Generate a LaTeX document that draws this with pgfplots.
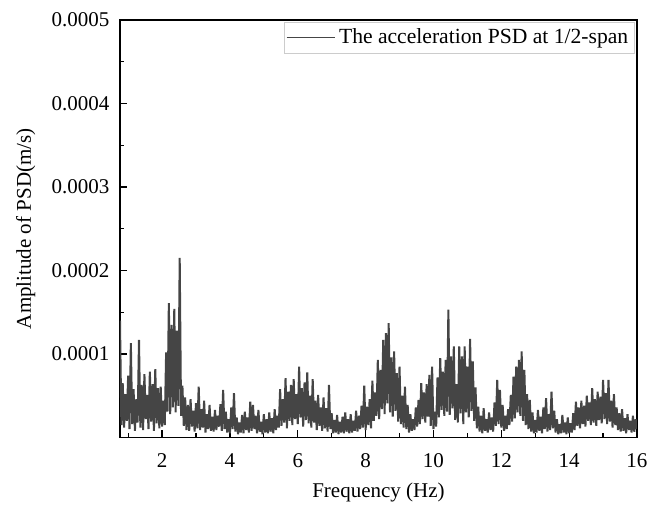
\documentclass[border=0pt]{standalone}
\usepackage{fontspec}
\setmainfont{Liberation Serif}
\usepackage{pgfplots}
\pgfplotsset{compat=1.18}
\begin{document}
\fontsize{11}{13}\selectfont
\begin{tikzpicture}
\begin{axis}[
 scale only axis, width=258.5pt, height=208.75pt,
 xmin=0.76, xmax=16, ymin=0, ymax=0.0005,
 xtick={2,4,...,16}, minor xtick={1,3,...,15},
 ytick={0.0001,0.0002,0.0003,0.0004,0.0005}, minor y tick num=1,
 yticklabels={0.0001,0.0002,0.0003,0.0004,0.0005},
 scaled y ticks=false,
 /pgf/number format/assume math mode=true,
 tick align=inside, xtick pos=bottom, ytick pos=left,
 major tick length=3.6pt, minor tick length=2.2pt,
 axis line style={line width=0.8pt},
 tick style={line width=0.6pt, black},
 tick label style={font=\fontsize{10.5}{12}\selectfont},
 label style={font=\fontsize{10.5}{12}\selectfont},
 xticklabel shift=4pt, yticklabel shift=1.5pt,
 xlabel shift=0pt, ylabel shift=0.6pt,
 xlabel={Frequency (Hz)}, ylabel={Amplitude of PSD(m/s)},
 legend style={at={(rel axis cs:1,1)}, xshift=-1.2pt, yshift=-1.2pt, anchor=north east, draw=gray!40, inner sep=1pt, font=\fontsize{10.8}{13}\selectfont},
 legend cell align=left,
 legend image code/.code={\draw[black!73, line width=0.5pt] (0pt,0pt) -- (24pt,0pt);},
]
\addplot[black!73, line width=1.0pt, line join=miter, miter limit=2] coordinates {
(0.76,14e-5) (0.80,1.5e-5) (0.84,6.5e-5) (0.88,1.2e-5) (0.92,5.2e-5) (0.96,2.0e-5) (1.00,7.4e-5) (1.04,1.0e-5) (1.08,11.3e-5) (1.12,1.6e-5)
(1.16,5.8e-5) (1.20,0.8e-5) (1.24,4.6e-5) (1.28,1.8e-5) (1.32,11.7e-5) (1.36,1.2e-5) (1.40,6.3e-5) (1.44,0.9e-5) (1.48,7.6e-5) (1.52,2.2e-5)
(1.56,5.1e-5) (1.60,1.0e-5) (1.64,7.9e-5) (1.68,1.9e-5) (1.72,6.4e-5) (1.76,0.8e-5) (1.80,8.2e-5) (1.84,1.7e-5) (1.88,5.9e-5) (1.92,1.1e-5)
(1.96,6.1e-5) (2.00,1.3e-5) (2.04,4.4e-5) (2.08,1.5e-5) (2.12,10.2e-5) (2.16,3.1e-5) (2.20,16.1e-5) (2.24,2.8e-5) (2.28,13.5e-5) (2.32,3.6e-5)
(2.36,15.4e-5) (2.40,3.0e-5) (2.44,12.8e-5) (2.48,3.8e-5) (2.52,21.5e-5) (2.56,2.6e-5) (2.60,6.2e-5) (2.64,1.4e-5) (2.68,4.8e-5) (2.72,0.9e-5)
(2.76,3.9e-5) (2.80,0.8e-5) (2.84,4.6e-5) (2.88,1.3e-5) (2.92,3.2e-5) (2.96,0.7e-5) (3.00,4.1e-5) (3.04,1.1e-5) (3.08,6.1e-5) (3.12,0.9e-5)
(3.16,3.4e-5) (3.20,1.2e-5) (3.24,4.4e-5) (3.28,0.6e-5) (3.32,2.8e-5) (3.36,1.0e-5) (3.40,3.9e-5) (3.44,0.8e-5) (3.48,2.5e-5) (3.52,0.7e-5)
(3.56,3.3e-5) (3.60,0.9e-5) (3.64,2.6e-5) (3.68,1.3e-5) (3.72,4.0e-5) (3.76,0.8e-5) (3.80,5.7e-5) (3.84,1.0e-5) (3.88,3.1e-5) (3.92,0.6e-5)
(3.96,2.2e-5) (4.00,0.5e-5) (4.04,3.6e-5) (4.08,1.0e-5) (4.12,5.3e-5) (4.16,0.7e-5) (4.20,2.4e-5) (4.24,0.4e-5) (4.28,1.8e-5) (4.32,0.6e-5)
(4.36,2.7e-5) (4.40,0.5e-5) (4.44,3.1e-5) (4.48,0.9e-5) (4.52,2.4e-5) (4.56,0.6e-5) (4.60,4.3e-5) (4.64,0.8e-5) (4.68,3.9e-5) (4.72,1.0e-5)
(4.76,2.6e-5) (4.80,0.5e-5) (4.84,3.3e-5) (4.88,0.7e-5) (4.92,1.9e-5) (4.96,0.4e-5) (5.00,2.8e-5) (5.04,0.6e-5) (5.08,2.2e-5) (5.12,0.5e-5)
(5.16,3.0e-5) (5.20,0.7e-5) (5.24,2.3e-5) (5.28,0.5e-5) (5.32,3.4e-5) (5.36,0.9e-5) (5.40,2.6e-5) (5.44,1.2e-5) (5.48,5.8e-5) (5.52,1.4e-5)
(5.56,4.6e-5) (5.60,1.8e-5) (5.64,7.1e-5) (5.68,1.1e-5) (5.72,5.5e-5) (5.76,2.0e-5) (5.80,6.3e-5) (5.84,1.5e-5) (5.88,7.0e-5) (5.92,2.2e-5)
(5.96,5.2e-5) (6.00,1.6e-5) (6.04,8.5e-5) (6.08,2.4e-5) (6.12,5.9e-5) (6.16,1.3e-5) (6.20,6.6e-5) (6.24,2.1e-5) (6.28,7.8e-5) (6.32,1.7e-5)
(6.36,5.0e-5) (6.40,1.2e-5) (6.44,7.0e-5) (6.48,1.8e-5) (6.52,4.4e-5) (6.56,0.9e-5) (6.60,5.1e-5) (6.64,1.4e-5) (6.68,3.6e-5) (6.72,0.8e-5)
(6.76,4.8e-5) (6.80,1.1e-5) (6.84,3.5e-5) (6.88,0.7e-5) (6.92,6.3e-5) (6.96,1.0e-5) (7.00,2.9e-5) (7.04,0.5e-5) (7.08,2.1e-5) (7.12,0.6e-5)
(7.16,2.7e-5) (7.20,0.4e-5) (7.24,1.9e-5) (7.28,0.6e-5) (7.32,2.5e-5) (7.36,0.5e-5) (7.40,3.0e-5) (7.44,0.7e-5) (7.48,2.2e-5) (7.52,0.5e-5)
(7.56,2.8e-5) (7.60,0.6e-5) (7.64,2.0e-5) (7.68,0.8e-5) (7.72,3.2e-5) (7.76,0.7e-5) (7.80,2.6e-5) (7.84,1.0e-5) (7.88,3.8e-5) (7.92,1.2e-5)
(7.96,6.2e-5) (8.00,0.9e-5) (8.04,3.7e-5) (8.08,1.5e-5) (8.12,4.6e-5) (8.16,1.1e-5) (8.20,6.8e-5) (8.24,2.0e-5) (8.28,5.4e-5) (8.32,2.6e-5)
(8.36,9.3e-5) (8.40,2.2e-5) (8.44,8.1e-5) (8.48,3.4e-5) (8.52,11.7e-5) (8.56,2.8e-5) (8.60,12.5e-5) (8.64,4.1e-5) (8.68,13.7e-5) (8.72,3.0e-5)
(8.76,9.6e-5) (8.80,2.5e-5) (8.84,10.3e-5) (8.88,3.2e-5) (8.92,7.7e-5) (8.96,1.9e-5) (9.00,8.5e-5) (9.04,1.6e-5) (9.08,5.0e-5) (9.12,1.2e-5)
(9.16,6.1e-5) (9.20,1.0e-5) (9.24,3.9e-5) (9.28,0.6e-5) (9.32,2.8e-5) (9.36,0.8e-5) (9.40,2.2e-5) (9.44,0.9e-5) (9.48,3.6e-5) (9.52,1.3e-5)
(9.56,4.5e-5) (9.60,1.6e-5) (9.64,6.5e-5) (9.68,2.2e-5) (9.72,5.4e-5) (9.76,1.8e-5) (9.80,6.4e-5) (9.84,2.5e-5) (9.88,7.5e-5) (9.92,1.4e-5)
(9.96,8.5e-5) (10.00,1.0e-5) (10.04,3.1e-5) (10.08,1.3e-5) (10.12,7.2e-5) (10.16,2.4e-5) (10.20,9.5e-5) (10.24,3.3e-5) (10.28,7.9e-5) (10.32,2.6e-5)
(10.36,9.3e-5) (10.40,3.1e-5) (10.44,15.3e-5) (10.48,2.7e-5) (10.52,9.7e-5) (10.56,3.5e-5) (10.60,10.9e-5) (10.64,2.1e-5) (10.68,6.4e-5) (10.72,1.8e-5)
(10.76,10.9e-5) (10.80,2.9e-5) (10.84,9.7e-5) (10.88,1.6e-5) (10.92,10.9e-5) (10.96,3.0e-5) (11.00,8.5e-5) (11.04,2.4e-5) (11.08,11.8e-5) (11.12,3.2e-5)
(11.16,9.1e-5) (11.20,2.0e-5) (11.24,6.0e-5) (11.28,1.1e-5) (11.32,3.7e-5) (11.36,0.7e-5) (11.40,2.6e-5) (11.44,0.5e-5) (11.48,3.5e-5) (11.52,0.8e-5)
(11.56,2.2e-5) (11.60,0.6e-5) (11.64,3.0e-5) (11.68,0.9e-5) (11.72,2.4e-5) (11.76,0.7e-5) (11.80,4.2e-5) (11.84,1.4e-5) (11.88,6.9e-5) (11.92,1.6e-5)
(11.96,5.7e-5) (12.00,1.2e-5) (12.04,3.9e-5) (12.08,0.8e-5) (12.12,2.6e-5) (12.16,1.0e-5) (12.20,3.4e-5) (12.24,1.5e-5) (12.28,5.1e-5) (12.32,1.9e-5)
(12.36,7.3e-5) (12.40,2.3e-5) (12.44,8.5e-5) (12.48,3.0e-5) (12.52,9.3e-5) (12.56,2.6e-5) (12.60,10.3e-5) (12.64,2.0e-5) (12.68,8.1e-5) (12.72,1.5e-5)
(12.76,5.2e-5) (12.80,1.0e-5) (12.84,4.5e-5) (12.88,0.7e-5) (12.92,3.0e-5) (12.96,0.5e-5) (13.00,2.1e-5) (13.04,0.6e-5) (13.08,3.3e-5) (13.12,0.8e-5)
(13.16,2.5e-5) (13.20,0.5e-5) (13.24,3.6e-5) (13.28,1.0e-5) (13.32,4.7e-5) (13.36,0.7e-5) (13.40,2.8e-5) (13.44,0.9e-5) (13.48,5.5e-5) (13.52,1.1e-5)
(13.56,3.2e-5) (13.60,0.6e-5) (13.64,2.2e-5) (13.68,0.4e-5) (13.72,1.6e-5) (13.76,0.5e-5) (13.80,2.7e-5) (13.84,0.6e-5) (13.88,1.8e-5) (13.92,0.4e-5)
(13.96,2.4e-5) (14.00,0.5e-5) (14.04,1.7e-5) (14.08,0.6e-5) (14.12,2.9e-5) (14.16,0.9e-5) (14.20,4.3e-5) (14.24,1.4e-5) (14.28,3.6e-5) (14.32,1.1e-5)
(14.36,4.4e-5) (14.40,1.6e-5) (14.44,3.8e-5) (14.48,1.3e-5) (14.52,5.0e-5) (14.56,2.0e-5) (14.60,4.2e-5) (14.64,1.5e-5) (14.68,5.9e-5) (14.72,1.8e-5)
(14.76,4.6e-5) (14.80,1.4e-5) (14.84,5.5e-5) (14.88,2.1e-5) (14.92,4.9e-5) (14.96,1.7e-5) (15.00,6.9e-5) (15.04,2.2e-5) (15.08,5.3e-5) (15.12,1.6e-5)
(15.16,6.9e-5) (15.20,1.9e-5) (15.24,4.4e-5) (15.28,1.2e-5) (15.32,5.2e-5) (15.36,1.5e-5) (15.40,3.6e-5) (15.44,0.9e-5) (15.48,2.9e-5) (15.52,0.7e-5)
(15.56,3.4e-5) (15.60,0.8e-5) (15.64,2.3e-5) (15.68,0.5e-5) (15.72,2.8e-5) (15.76,0.9e-5) (15.80,2.0e-5) (15.84,0.6e-5) (15.88,2.6e-5) (15.92,0.7e-5)
(15.96,2.2e-5) (16.00,1.0e-5)
};
\addlegendentry{The acceleration PSD at 1/2-span}
\end{axis}
\pgfresetboundingbox
\path (current axis.south west) ++(-60pt,-33.75pt) rectangle ++(324.5pt,252.5pt);
\end{tikzpicture}
\end{document}
